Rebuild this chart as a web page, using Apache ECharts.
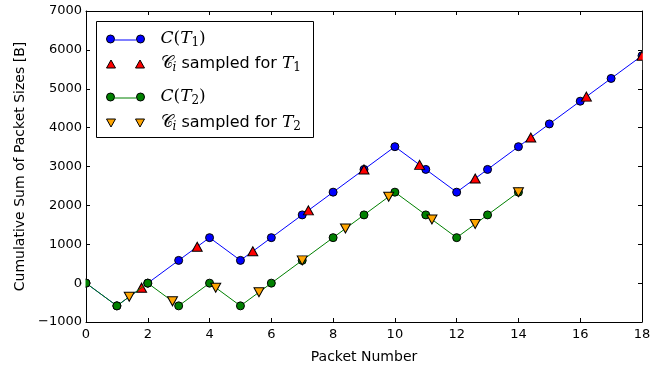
<!DOCTYPE html>
<html>
<head>
<meta charset="utf-8">
<script src="https://cdn.jsdelivr.net/npm/echarts@6/dist/echarts.min.js"></script>
<style>html,body{margin:0;padding:0;background:#fff;}#c{width:665px;height:371px;}</style>
</head>
<body>
<div id="c"></div>
<script>
// ---- data ----
var packetIdx1 = [0,1,2,3,4,5,6,7,8,9,10,11,12,13,14,15,16,17,18];
var cT1 = [0,-585,0,585,1170,585,1170,1755,2340,2925,3510,2925,2340,2925,3510,4095,4680,5265,5850];
var packetIdx2 = [0,1,2,3,4,5,6,7,8,9,10,11,12,13,14];
var cT2 = [0,-585,0,-585,0,-585,0,585,1170,1755,2340,1755,1170,1755,2340];
var sampleX1 = [1.8,3.6,5.4,7.2,9.0,10.8,12.6,14.4,16.2,18.0];
var sampleY1 = [-117,936,819,1872,2925,3042,2691,3744,4797,5850];
var sampleX2 = [1.4,2.8,4.2,5.6,7.0,8.4,9.8,11.2,12.6,14.0];
var sampleY2 = [-351,-468,-117,-234,585,1404,2223,1638,1521,2340];
var xTicks = [0,2,4,6,8,10,12,14,16,18];
var yTicks = [-1000,0,1000,2000,3000,4000,5000,6000,7000];
var names = ['C(T1)', 'Ci sampled for T1', 'C(T2)', 'Ci sampled for T2'];

function zip(a, b) { return a.map(function (v, i) { return [v, b[i]]; }); }

var chart = echarts.init(document.getElementById('c'), null, {renderer: 'canvas'});
var FONT = 'DejaVu Sans';
var gridL = 86, gridR = 23, gridT = 11, gridB = 49;

var axisCommon = {
  axisLine: {show: true, onZero: false, lineStyle: {color: '#000', width: 1}},
  axisTick: {show: true, inside: true, length: 4, lineStyle: {color: '#000'}},
  splitLine: {show: false}
};

function legendFmt(name) {
  if (name === names[0]) return '{g|}{i|C}{n|(}{i|T}{s|1}{n|)}';
  if (name === names[2]) return '{g|}{i|C}{n|(}{i|T}{s|2}{n|)}';
  if (name === names[1]) return '{g|}{c|𝒞}{si|i}{t| sampled for }{i|T}{s|1}';
  return '{g|}{c|𝒞}{si|i}{t| sampled for }{i|T}{s|2}';
}
var rich = {
  g: {width: 11},
  i: {fontFamily: 'DejaVu Serif', fontStyle: 'italic', fontSize: 17, color: '#000', lineHeight: 22},
  n: {fontFamily: 'DejaVu Serif', fontSize: 17, color: '#000', lineHeight: 22},
  c: {fontFamily: 'DejaVu Sans', fontSize: 17, color: '#000', lineHeight: 22},
  s: {fontFamily: 'DejaVu Serif', fontSize: 12, color: '#000', lineHeight: 22, padding: [8, 0, 0, 0]},
  si: {fontFamily: 'DejaVu Serif', fontStyle: 'italic', fontSize: 12, color: '#000', lineHeight: 22, padding: [8, 0, 0, 0]},
  t: {fontFamily: FONT, fontSize: 16, color: '#000', lineHeight: 22}
};
var circIcon = 'path://M0,4a4,4 0 1,0 8,0a4,4 0 1,0 -8,0M30,4a4,4 0 1,0 8,0a4,4 0 1,0 -8,0';
var upIcon = 'path://M4.5,0L9,8L0,8ZM33.5,0L38,8L29,8Z';
var dnIcon = 'path://M0,0L9,0L4.5,8ZM29,0L38,0L33.5,8Z';
var legendCenters = [40, 65, 98, 124];
var icons = [circIcon, upIcon, circIcon, dnIcon];
var colors = ['#0000ff', '#ff0000', '#008000', '#ffa500'];
var legends = names.map(function (n, k) {
  return {
    show: true, orient: 'vertical', left: 106, top: legendCenters[k] - 11, padding: 0,
    itemWidth: 38, itemHeight: 8, z: 10,
    selectedMode: false,
    data: [{name: n, icon: icons[k], itemStyle: {color: colors[k], borderColor: '#000', borderWidth: 1}}],
    formatter: legendFmt,
    textStyle: {rich: rich}
  };
});

var option = {
  animation: false,
  backgroundColor: '#fff',
  grid: {left: gridL, right: gridR, top: gridT, bottom: gridB, containLabel: false, outerBoundsMode: 'none'},
  legend: legends,
  xAxis: [
    Object.assign({}, axisCommon, {
      type: 'value', min: 0, max: 18, interval: 2, position: 'bottom',
      name: 'Packet Number', nameLocation: 'middle', nameGap: 28,
      nameTextStyle: {fontFamily: FONT, fontSize: 14, color: '#000'},
      axisLabel: {show: true, color: '#000', fontFamily: FONT, fontSize: 13, margin: 6}
    }),
    Object.assign({}, axisCommon, {
      type: 'value', min: 0, max: 18, interval: 2, position: 'top',
      axisLabel: {show: false}
    })
  ],
  yAxis: [
    Object.assign({}, axisCommon, {
      type: 'value', min: -1000, max: 7000, interval: 1000, position: 'left',
      name: 'Cumulative Sum of Packet Sizes [B]', nameLocation: 'middle', nameGap: 52,
      nameTextStyle: {fontFamily: FONT, fontSize: 14, color: '#000'},
      axisLabel: {show: true, color: '#000', fontFamily: FONT, fontSize: 13, margin: 4,
        formatter: function (v) { return v < 0 ? '\u2212' + Math.abs(v) : String(v); }}
    }),
    Object.assign({}, axisCommon, {
      type: 'value', min: -1000, max: 7000, interval: 1000, position: 'right',
      axisLabel: {show: false}
    })
  ],
  graphic: [
    {type: 'rect', z: 5, shape: {x: 96.5, y: 21.5, width: 217, height: 116},
      style: {fill: '#fff', stroke: '#000', lineWidth: 1}},
    {type: 'line', z: 11, shape: {x1: 114, y1: legendCenters[0], x2: 136, y2: legendCenters[0]},
      style: {stroke: '#0000ff', lineWidth: 1}},
    {type: 'line', z: 11, shape: {x1: 114, y1: legendCenters[2], x2: 136, y2: legendCenters[2]},
      style: {stroke: '#008000', lineWidth: 1}},
    // white masks emulating clipping of markers at the plot edges
    {type: 'rect', z: 6, shape: {x: 81.5, y: 274, width: 4, height: 18}, style: {fill: '#fff'}},
    {type: 'rect', z: 6, shape: {x: 642.8, y: 40, width: 8, height: 30}, style: {fill: '#fff'}}
  ],
  series: [
    {name: names[0], type: 'line', z: 2, data: zip(packetIdx1, cT1),
      symbol: 'circle', symbolSize: 8, showAllSymbol: true,
      lineStyle: {color: '#0000ff', width: 1},
      itemStyle: {color: '#0000ff', borderColor: '#000', borderWidth: 1}},
    {name: names[1], type: 'scatter', z: 3, data: zip(sampleX1, sampleY1),
      symbol: 'triangle', symbolSize: [10, 9],
      itemStyle: {color: '#ff0000', borderColor: '#000', borderWidth: 1, opacity: 1}},
    {name: names[2], type: 'line', z: 4, data: zip(packetIdx2, cT2),
      symbol: 'circle', symbolSize: 8, showAllSymbol: true,
      lineStyle: {color: '#008000', width: 1},
      itemStyle: {color: '#008000', borderColor: '#000', borderWidth: 1}},
    {name: names[3], type: 'scatter', z: 5, data: zip(sampleX2, sampleY2),
      symbol: 'triangle', symbolRotate: 180, symbolSize: [10, 9],
      itemStyle: {color: '#ffa500', borderColor: '#000', borderWidth: 1, opacity: 1}}
  ]
};
chart.setOption(option);
</script>
</body>
</html>
